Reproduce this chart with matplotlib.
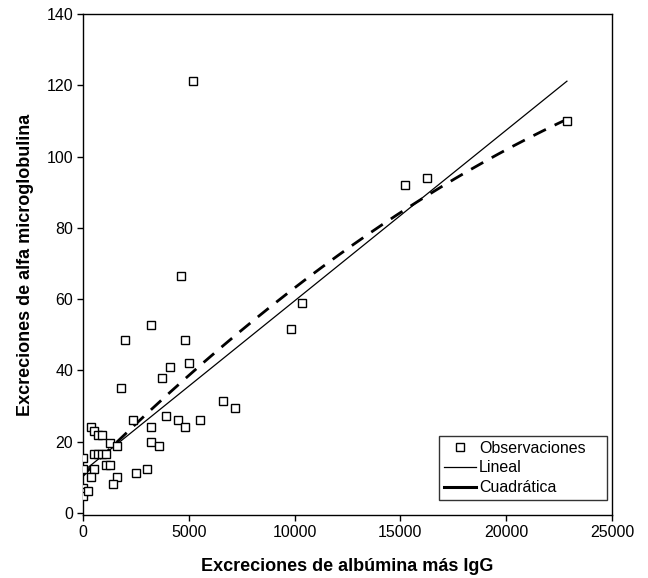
import numpy as np
import matplotlib

matplotlib.use("Agg")
import matplotlib.pyplot as plt
from matplotlib.lines import Line2D

plt.rcParams["font.family"] = ["Liberation Sans", "DejaVu Sans"]

# observaciones (albúmina + IgG, alfa microglobulina)
alb_igg = [5200, 4650, 3210, 1970, 4840, 4130, 5010, 3750, 1810, 6620,
           7170, 3940, 4480, 5550, 4840, 3210, 3210, 3580, 2350, 380,
           540, 730, 920, 1280, 1610, 0, 540, 730, 920, 1100,
           0, 540, 1090, 1280, 380, 1610, 1440, 2500, 3010, 0,
           0, 0, 220, 9830, 10370, 15200, 16260, 22870]
alfa_mg = [121.3, 66.5, 52.7, 48.5, 48.5, 41.0, 42.0, 37.8, 35.0, 31.4,
           29.4, 27.2, 26.1, 26.1, 24.0, 24.0, 19.8, 18.7, 26.1, 24.0,
           22.9, 21.9, 21.9, 19.7, 18.8, 15.5, 16.6, 16.6, 16.6, 16.6,
           12.3, 12.3, 13.4, 13.4, 10.2, 10.2, 8.1, 11.3, 12.3, 6.9,
           5.8, 4.8, 6.0, 51.6, 59.0, 92.0, 94.1, 109.9]

# coeficientes de los ajustes (grado alto -> bajo)
coef_lineal = [4.79e-3, 11.6]
coef_cuadratica = [-6.95e-8, 5.96e-3, 10.5]

x_ticks = [0, 5000, 10000, 15000, 20000, 25000]
y_ticks = [0, 20, 40, 60, 80, 100, 120, 140]

fig = plt.figure(figsize=(6.48, 5.78), dpi=100)
ax = fig.add_axes([83 / 648, 1 - 515 / 578, (612 - 83) / 648, (515 - 14) / 578])

xs = np.linspace(min(alb_igg), max(alb_igg), 200)
ax.plot(alb_igg, alfa_mg, linestyle="none", marker="s", markersize=6,
        markerfacecolor="white", markeredgecolor="black", markeredgewidth=1.0,
        zorder=3)
ax.plot(xs, np.polyval(coef_lineal, xs), color="black", linewidth=0.9)
ax.plot(xs, np.polyval(coef_cuadratica, xs), color="black", linewidth=2.0,
        dashes=(5, 3.5))

ax.set_xlim(0, 25000)
ax.set_ylim(-0.6, 140)
ax.set_xticks(x_ticks)
ax.set_yticks(y_ticks)
ax.tick_params(direction="out", length=4, width=1, labelsize=11.5, colors="black",
               pad=3)
for s in ax.spines.values():
    s.set_linewidth(1.0)
    s.set_color("black")

ax.set_xlabel("Excreciones de albúmina más IgG", fontsize=13, fontweight="bold",
              labelpad=13)
ax.set_ylabel("Excreciones de alfa microglobulina", fontsize=13, fontweight="bold",
              labelpad=9)

handles = [
    Line2D([], [], linestyle="none", marker="s", markersize=5.5,
           markerfacecolor="white", markeredgecolor="black", markeredgewidth=1.0),
    Line2D([], [], color="black", linewidth=0.9),
    Line2D([], [], color="black", linewidth=2.2),
]
leg = ax.legend(handles, ["Observaciones", "Lineal", "Cuadrática"],
                loc="lower left", bbox_to_anchor=(0.673, 0.03, 0.3176, 0.13),
                mode="expand", fontsize=11.5,
                frameon=True, fancybox=False, edgecolor="black",
                handlelength=2.0, handletextpad=0.2, borderpad=0.3,
                labelspacing=0.3, borderaxespad=0)
leg.get_frame().set_linewidth(1.0)

fig.savefig("out.png", dpi=100)
